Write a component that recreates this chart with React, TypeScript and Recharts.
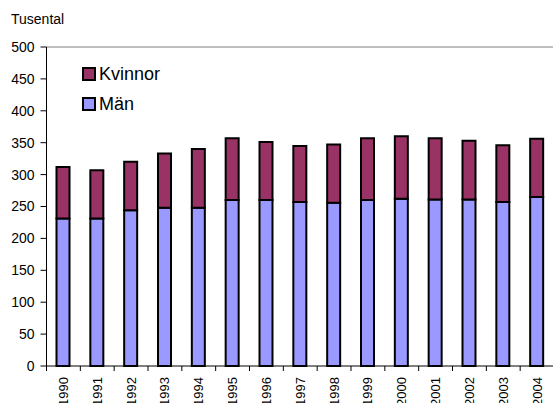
import React from "react";
import { BarChart, Bar, XAxis, YAxis, ReferenceLine } from "recharts";

const years = ["1990","1991","1992","1993","1994","1995","1996","1997","1998","1999","2000","2001","2002","2003","2004"];
const men = [231, 231, 244, 248, 248, 260, 260, 257, 256, 260, 262, 261, 261, 257, 265];
const women = [81, 76, 76, 85, 92, 97, 91, 88, 91, 97, 98, 96, 92, 89, 91];
const yTicks = [0, 50, 100, 150, 200, 250, 300, 350, 400, 450, 500];
const legendItems = [
  { key: "women", name: "Kvinnor", color: "#993366" },
  { key: "men", name: "Män", color: "#9999FF" },
];

const data = years.map((y, i) => ({ year: y, men: men[i], women: women[i] }));

const W = 560;
const H = 403;
const M = { top: 47, right: 6, bottom: 0, left: 0 };
const Y_W = 46.5;
const X_H = 37;
const band = (W - M.left - M.right - Y_W) / years.length;
const FONT = "'Liberation Sans', Arial, sans-serif";

const XTick = (props: any) => {
  const { x, y, payload } = props;
  const lx = x - band / 2;
  const tx = x + 4.5;
  const ty = y + 11;
  return (
    <g>
      <line x1={lx} y1={y} x2={lx} y2={y + 5} stroke="#000" strokeWidth={1} />
      <text
        x={tx}
        y={ty}
        transform={`rotate(-90, ${tx}, ${ty})`}
        textAnchor="end"
        fontSize={13}
        fontFamily={FONT}
        fill="#000"
      >
        {payload.value}
      </text>
    </g>
  );
};

export default function App() {
  return (
    <div style={{ position: "absolute", left: 0, top: 0, width: 553, height: 403, overflow: "hidden", background: "#fff" }}>
      <div style={{ position: "absolute", left: 11, top: 11, fontFamily: FONT, fontSize: 14, color: "#000" }}>Tusental</div>
      <BarChart width={W} height={H} data={data} margin={M} barSize={13}>
        <XAxis
          dataKey="year"
          height={X_H}
          tickLine={false}
          tickSize={0}
          tickMargin={0}
          interval={0}
          tick={<XTick />}
          stroke="#000"
        />
        <YAxis
          width={Y_W}
          domain={[0, 500]}
          ticks={yTicks}
          interval={0}
          tickSize={6}
          tickMargin={6}
          stroke="#000"
          tick={{ fill: "#000", fontSize: 14, fontFamily: FONT }}
        />
        <ReferenceLine y={500} stroke="#808080" strokeWidth={1} />
        <Bar dataKey="men" name="Män" stackId="a" fill="#9999FF" stroke="#000" strokeWidth={2} isAnimationActive={false} />
        <Bar dataKey="women" name="Kvinnor" stackId="a" fill="#993366" stroke="#000" strokeWidth={2} isAnimationActive={false} />
      </BarChart>
      <div style={{ position: "absolute", left: 82, top: 59, fontFamily: FONT, fontSize: 18, color: "#000" }}>
        {legendItems.map((it) => (
          <div key={it.key} style={{ display: "flex", alignItems: "center", height: 30 }}>
            <span
              style={{
                display: "inline-block",
                width: 10,
                height: 10,
                background: it.color,
                border: "2px solid #000",
                marginRight: 3,
              }}
            />
            <span>{it.name}</span>
          </div>
        ))}
      </div>
    </div>
  );
}
